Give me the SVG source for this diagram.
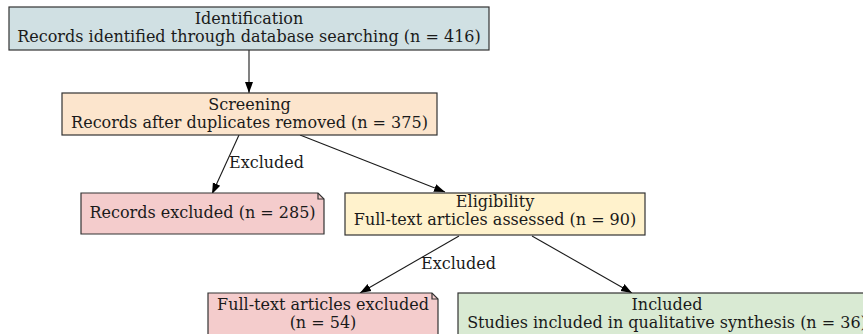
<svg xmlns="http://www.w3.org/2000/svg" width="863" height="334" viewBox="0 0 863 334">
<defs>
<style>
text{font-family:"DejaVu Serif",serif;font-size:16px;fill:#1a1a1a;text-anchor:middle}
.box{stroke:#333;stroke-width:1.2}
.edge{stroke:#1a1a1a;stroke-width:1.1;fill:none}
.lbl{text-anchor:start}
</style>
<marker id="arr" viewBox="0 0 11 10" refX="11" refY="5" markerWidth="11" markerHeight="10" markerUnits="userSpaceOnUse" orient="auto">
<path d="M0,1 L11,5 L0,9 Z" fill="#000"/>
</marker>
</defs>
<rect width="863" height="334" fill="#fff"/>
<g id="connectors">
<line class="edge" x1="249" y1="50" x2="249" y2="93" marker-end="url(#arr)"/>
<line class="edge" x1="239" y1="135" x2="212" y2="194" marker-end="url(#arr)"/>
<text class="lbl" x="229" y="168">Excluded</text>
<line class="edge" x1="300" y1="135" x2="445" y2="192" marker-end="url(#arr)"/>
<line class="edge" x1="459" y1="236" x2="360" y2="293" marker-end="url(#arr)"/>
<text class="lbl" x="421" y="269">Excluded</text>
<line class="edge" x1="532" y1="236" x2="632" y2="293" marker-end="url(#arr)"/>
</g>
<g id="identification">
<rect class="box" x="9" y="7" width="480" height="43" fill="#d0e0e3"/>
<text x="249" y="24">Identification</text>
<text x="249" y="42">Records identified through database searching (n = 416)</text>
</g>
<g id="screening">
<rect class="box" x="62" y="93" width="375" height="42" fill="#fce5cd"/>
<text x="249.5" y="110">Screening</text>
<text x="249.5" y="128">Records after duplicates removed (n = 375)</text>
</g>
<g id="records_excluded">
<path class="box" d="M81,193 H318 L324,199 V234 H81 Z" fill="#f4cccc"/>
<path class="box" d="M318,193 V199 H324" fill="none"/>
<text x="202.5" y="218">Records excluded (n = 285)</text>
</g>
<g id="eligibility">
<rect class="box" x="345" y="193" width="300" height="42" fill="#fff2cc"/>
<text x="495" y="207">Eligibility</text>
<text x="495" y="225">Full-text articles assessed (n = 90)</text>
</g>
<g id="fulltext_excluded">
<path class="box" d="M208,293 H432 L438,299 V340 H208 Z" fill="#f4cccc"/>
<path class="box" d="M432,293 V299 H438" fill="none"/>
<text x="323" y="310">Full-text articles excluded</text>
<text x="323" y="328">(n = 54)</text>
</g>
<g id="included">
<rect class="box" x="458" y="293" width="418" height="47" fill="#d9ead3"/>
<text x="667" y="310">Included</text>
<text x="667" y="328">Studies included in qualitative synthesis (n = 36)</text>
</g>
</svg>
